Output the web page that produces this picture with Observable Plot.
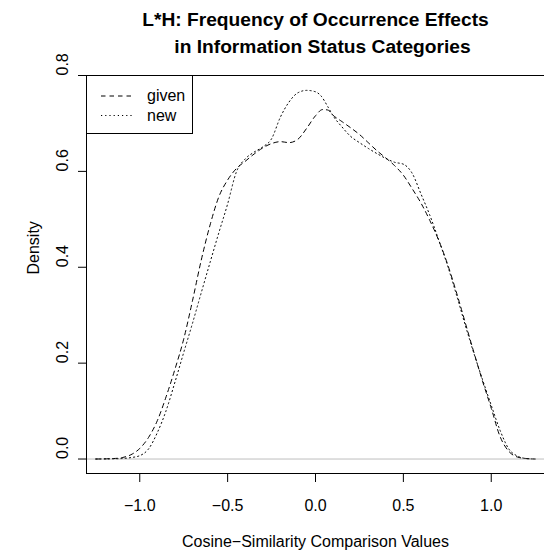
<!DOCTYPE html>
<html><head><meta charset="utf-8">
<script src="https://cdn.jsdelivr.net/npm/d3@7"></script>
<script src="https://cdn.jsdelivr.net/npm/@observablehq/plot@0.6"></script>
<style>
body{margin:0;background:#fff;font-family:"Liberation Sans",Arial,Helvetica,sans-serif;}
#wrap{position:relative;width:544px;height:551px;}
#legend{position:absolute;left:86px;top:75px;width:107px;height:59px;box-sizing:border-box;border:1px solid #000;background:#fff;}
#legend svg{position:absolute;left:-1px;top:-1px;}
</style></head><body><div id="wrap"></div>
<script>
const givenX = [-1.25,-1.15,-1.10,-1.05,-1.00,-0.95,-0.90,-0.85,-0.80,-0.75,-0.70,-0.65,-0.60,-0.55,-0.50,-0.45,-0.40,-0.35,-0.30,-0.25,-0.20,-0.15,-0.10,-0.05,0.00,0.04,0.07,0.10,0.15,0.20,0.25,0.30,0.35,0.40,0.45,0.50,0.55,0.60,0.65,0.70,0.75,0.80,0.85,0.90,0.95,1.00,1.05,1.10,1.15,1.20,1.25];
const givenY = [0,0.001,0.003,0.009,0.022,0.045,0.080,0.130,0.187,0.250,0.330,0.415,0.488,0.547,0.582,0.606,0.621,0.636,0.649,0.658,0.662,0.660,0.667,0.690,0.716,0.729,0.728,0.717,0.704,0.691,0.677,0.660,0.643,0.628,0.612,0.592,0.564,0.534,0.498,0.457,0.408,0.350,0.287,0.224,0.163,0.106,0.047,0.016,0.004,0.001,0];
const newX = [-1.25,-1.15,-1.10,-1.05,-1.00,-0.95,-0.90,-0.85,-0.80,-0.75,-0.70,-0.65,-0.60,-0.55,-0.50,-0.45,-0.40,-0.35,-0.30,-0.25,-0.20,-0.15,-0.10,-0.05,0.00,0.03,0.07,0.10,0.15,0.20,0.25,0.30,0.35,0.40,0.45,0.50,0.55,0.60,0.65,0.70,0.75,0.80,0.85,0.90,0.95,1.00,1.05,1.10,1.15,1.20,1.25];
const newY = [0,0.0005,0.001,0.003,0.007,0.021,0.055,0.101,0.160,0.222,0.283,0.347,0.410,0.472,0.532,0.599,0.626,0.640,0.651,0.668,0.713,0.745,0.764,0.769,0.766,0.758,0.735,0.716,0.693,0.673,0.660,0.648,0.637,0.627,0.619,0.615,0.596,0.553,0.509,0.458,0.405,0.345,0.282,0.222,0.166,0.112,0.060,0.021,0.006,0.001,0];
const seriesNames = ["given", "new"];
const seriesDash = ["4.5,4", "1.2,3"];
const xTicks = [-1, -0.5, 0, 0.5, 1];
const yTicks = [0, 0.2, 0.4, 0.6, 0.8];
const xDomain = [-1.303, 1.303];
const yDomain = [-0.0302, 0.8];
const titleLines = ["L*H: Frequency of Occurrence Effects", "in Information Status Categories"];
const xLabel = "Cosine\u2212Similarity Comparison Values";
const yLabel = "Density";

const given = givenX.map((x, i) => ({x, y: givenY[i]}));
const nw = newX.map((x, i) => ({x, y: newY[i]}));
const fmt = d3.format(".1f");
const FONT = '"Liberation Sans", Arial, Helvetica, sans-serif';

const chart = Plot.plot({
  width: 544, height: 551,
  marginLeft: 86, marginRight: 0, marginTop: 75, marginBottom: 78,
  style: {fontFamily: FONT, fontSize: "16px", color: "#000", background: "#fff"},
  x: {domain: xDomain},
  y: {domain: yDomain},
  marks: [
    Plot.ruleY([0], {stroke: "#BEBEBE"}),
    Plot.line(given, {x: "x", y: "y", stroke: "#000", strokeWidth: 1, strokeDasharray: seriesDash[0], curve: "monotone-x"}),
    Plot.line(nw, {x: "x", y: "y", stroke: "#000", strokeWidth: 1, strokeDasharray: seriesDash[1], curve: "monotone-x"}),
    Plot.ruleY([yDomain[1]], {stroke: "#000"}),
    Plot.ruleY([yDomain[0]], {stroke: "#000"}),
    Plot.ruleX([xDomain[0]], {stroke: "#000"}),
    Plot.axisX({ticks: xTicks, tickSize: 9, fill: "none", label: null}),
    Plot.axisY({ticks: yTicks, tickSize: 8, fill: "none", label: null}),
    Plot.text(xTicks, {x: d => d, text: d => fmt(d), frameAnchor: "bottom", dy: 32, lineAnchor: "middle", fontSize: 16, fill: "#000"}),
    Plot.text(yTicks, {y: d => d, text: d => fmt(d), frameAnchor: "left", dx: -24, rotate: -90, lineAnchor: "middle", fontSize: 16, fill: "#000"}),
    Plot.text([titleLines[0]], {text: d => d, frameAnchor: "top", dy: -56, lineAnchor: "middle", fontSize: 19.2, fontWeight: "bold", fill: "#000"}),
    Plot.text([titleLines[1]], {text: d => d, frameAnchor: "top", dx: 7, dy: -29, lineAnchor: "middle", fontSize: 19.2, fontWeight: "bold", fill: "#000"}),
    Plot.text([xLabel], {text: d => d, frameAnchor: "bottom", dy: 68, lineAnchor: "middle", fontSize: 16, fill: "#000"}),
    Plot.text([yLabel], {text: d => d, frameAnchor: "left", dx: -53, rotate: -90, lineAnchor: "middle", fontSize: 16, fill: "#000"})
  ]
});
const wrap = document.getElementById("wrap");
wrap.appendChild(chart);

const legend = document.createElement("div");
legend.id = "legend";
const ns = "http://www.w3.org/2000/svg";
const lsvg = document.createElementNS(ns, "svg");
lsvg.setAttribute("width", 107); lsvg.setAttribute("height", 59);
seriesNames.forEach((name, i) => {
  const yy = 21 + i * 19.5;
  const ln = document.createElementNS(ns, "line");
  ln.setAttribute("x1", 15); ln.setAttribute("x2", 47);
  ln.setAttribute("y1", yy); ln.setAttribute("y2", yy);
  ln.setAttribute("stroke", "#000"); ln.setAttribute("stroke-dasharray", seriesDash[i]);
  lsvg.appendChild(ln);
  const tx = document.createElementNS(ns, "text");
  tx.setAttribute("x", 61); tx.setAttribute("y", yy + 5);
  tx.setAttribute("font-size", 16); tx.setAttribute("font-family", FONT);
  tx.textContent = name;
  lsvg.appendChild(tx);
});
legend.appendChild(lsvg);
wrap.appendChild(legend);
</script></body></html>
